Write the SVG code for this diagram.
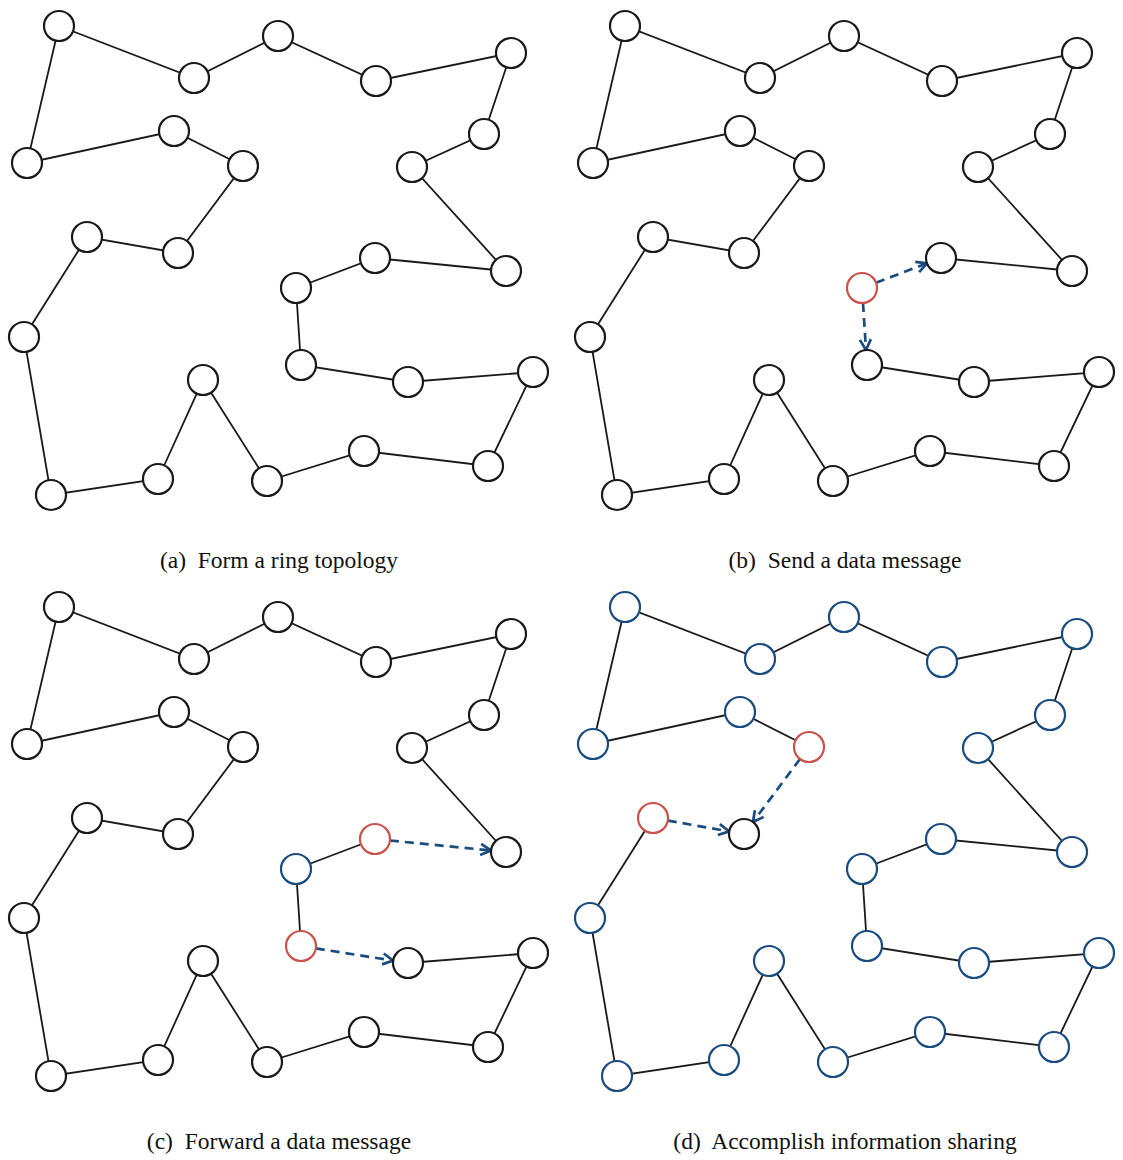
<svg xmlns="http://www.w3.org/2000/svg" width="1123" height="1160" viewBox="0 0 1123 1160">
<style>
.e{stroke:#1a1a1a;stroke-width:1.8;fill:none}
.d{stroke:#1b4c80;stroke-width:2.7;stroke-dasharray:9,6;fill:none;marker-end:url(#ah)}
.n{fill:#fff;stroke:#1a1a1a;stroke-width:2.2}
.r{fill:#fff;stroke:#c9524d;stroke-width:2.2}
.b{fill:#fff;stroke:#1b4c80;stroke-width:2.2}
.cap{font-family:"Liberation Serif",serif;font-size:23.5px;fill:#111;text-anchor:middle;white-space:pre}
</style>
<defs>
<marker id="ah" markerUnits="userSpaceOnUse" markerWidth="16" markerHeight="16" refX="12.5" refY="7" orient="auto" viewBox="0 0 16 14">
<path d="M2,1.5 L12.5,7 L2,12.5" fill="none" stroke="#1b4c80" stroke-width="2.7" stroke-linejoin="miter"/>
</marker>
</defs>

<!-- Panel (a) -->
<g id="panel-a">
<g id="a-edges">
<polyline class="e" points="59,26 194,78 278,36 376,81 511,53 484,134 412,167 506,271 375,258 296,288 301,365 408,382 533,372 488,466 364,451 267,481 203,380 158,479 51,495 24,337 87,237 178,253 243,166 174,131 27,163 59,26"/>
</g>
<g id="a-n1"><circle class="n" cx="59" cy="26" r="15"/></g>
<g id="a-n2"><circle class="n" cx="194" cy="78" r="15"/></g>
<g id="a-n3"><circle class="n" cx="278" cy="36" r="15"/></g>
<g id="a-n4"><circle class="n" cx="376" cy="81" r="15"/></g>
<g id="a-n5"><circle class="n" cx="511" cy="53" r="15"/></g>
<g id="a-n6"><circle class="n" cx="484" cy="134" r="15"/></g>
<g id="a-n7"><circle class="n" cx="412" cy="167" r="15"/></g>
<g id="a-n8"><circle class="n" cx="506" cy="271" r="15"/></g>
<g id="a-n9"><circle class="n" cx="375" cy="258" r="15"/></g>
<g id="a-n10"><circle class="n" cx="296" cy="288" r="15"/></g>
<g id="a-n11"><circle class="n" cx="301" cy="365" r="15"/></g>
<g id="a-n12"><circle class="n" cx="408" cy="382" r="15"/></g>
<g id="a-n13"><circle class="n" cx="533" cy="372" r="15"/></g>
<g id="a-n14"><circle class="n" cx="488" cy="466" r="15"/></g>
<g id="a-n15"><circle class="n" cx="364" cy="451" r="15"/></g>
<g id="a-n16"><circle class="n" cx="267" cy="481" r="15"/></g>
<g id="a-n17"><circle class="n" cx="203" cy="380" r="15"/></g>
<g id="a-n18"><circle class="n" cx="158" cy="479" r="15"/></g>
<g id="a-n19"><circle class="n" cx="51" cy="495" r="15"/></g>
<g id="a-n20"><circle class="n" cx="24" cy="337" r="15"/></g>
<g id="a-n21"><circle class="n" cx="87" cy="237" r="15"/></g>
<g id="a-n22"><circle class="n" cx="178" cy="253" r="15"/></g>
<g id="a-n23"><circle class="n" cx="243" cy="166" r="15"/></g>
<g id="a-n24"><circle class="n" cx="174" cy="131" r="15"/></g>
<g id="a-n25"><circle class="n" cx="27" cy="163" r="15"/></g>
<text class="cap" x="279" y="567.5" xml:space="preserve">(a)  Form a ring topology</text>
</g>

<!-- Panel (b) -->
<g id="panel-b" transform="translate(566,0)">
<g id="b-edges">
<polyline class="e" points="375,258 506,271 412,167 484,134 511,53 376,81 278,36 194,78 59,26 27,163 174,131 243,166 178,253 87,237 24,337 51,495 158,479 203,380 267,481 364,451 488,466 533,372 408,382 301,365"/>
<line class="d" x1="310" y1="282.7" x2="361" y2="263.3"/>
<line class="d" x1="297" y1="303" x2="300" y2="350"/>
</g>
<g id="b-n1"><circle class="n" cx="59" cy="26" r="15"/></g>
<g id="b-n2"><circle class="n" cx="194" cy="78" r="15"/></g>
<g id="b-n3"><circle class="n" cx="278" cy="36" r="15"/></g>
<g id="b-n4"><circle class="n" cx="376" cy="81" r="15"/></g>
<g id="b-n5"><circle class="n" cx="511" cy="53" r="15"/></g>
<g id="b-n6"><circle class="n" cx="484" cy="134" r="15"/></g>
<g id="b-n7"><circle class="n" cx="412" cy="167" r="15"/></g>
<g id="b-n8"><circle class="n" cx="506" cy="271" r="15"/></g>
<g id="b-n9"><circle class="n" cx="375" cy="258" r="15"/></g>
<g id="b-n10"><circle class="r" cx="296" cy="288" r="15"/></g>
<g id="b-n11"><circle class="n" cx="301" cy="365" r="15"/></g>
<g id="b-n12"><circle class="n" cx="408" cy="382" r="15"/></g>
<g id="b-n13"><circle class="n" cx="533" cy="372" r="15"/></g>
<g id="b-n14"><circle class="n" cx="488" cy="466" r="15"/></g>
<g id="b-n15"><circle class="n" cx="364" cy="451" r="15"/></g>
<g id="b-n16"><circle class="n" cx="267" cy="481" r="15"/></g>
<g id="b-n17"><circle class="n" cx="203" cy="380" r="15"/></g>
<g id="b-n18"><circle class="n" cx="158" cy="479" r="15"/></g>
<g id="b-n19"><circle class="n" cx="51" cy="495" r="15"/></g>
<g id="b-n20"><circle class="n" cx="24" cy="337" r="15"/></g>
<g id="b-n21"><circle class="n" cx="87" cy="237" r="15"/></g>
<g id="b-n22"><circle class="n" cx="178" cy="253" r="15"/></g>
<g id="b-n23"><circle class="n" cx="243" cy="166" r="15"/></g>
<g id="b-n24"><circle class="n" cx="174" cy="131" r="15"/></g>
<g id="b-n25"><circle class="n" cx="27" cy="163" r="15"/></g>
<text class="cap" x="279" y="567.5" xml:space="preserve">(b)  Send a data message</text>
</g>

<!-- Panel (c) -->
<g id="panel-c" transform="translate(0,581)">
<g id="c-edges">
<polyline class="e" points="375,258 296,288 301,365"/>
<polyline class="e" points="506,271 412,167 484,134 511,53 376,81 278,36 194,78 59,26 27,163 174,131 243,166 178,253 87,237 24,337 51,495 158,479 203,380 267,481 364,451 488,466 533,372 408,382"/>
<line class="d" x1="389.9" y1="259.5" x2="491.1" y2="269.5"/>
<line class="d" x1="315.8" y1="367.4" x2="393.2" y2="379.6"/>
</g>
<g id="c-n1"><circle class="n" cx="59" cy="26" r="15"/></g>
<g id="c-n2"><circle class="n" cx="194" cy="78" r="15"/></g>
<g id="c-n3"><circle class="n" cx="278" cy="36" r="15"/></g>
<g id="c-n4"><circle class="n" cx="376" cy="81" r="15"/></g>
<g id="c-n5"><circle class="n" cx="511" cy="53" r="15"/></g>
<g id="c-n6"><circle class="n" cx="484" cy="134" r="15"/></g>
<g id="c-n7"><circle class="n" cx="412" cy="167" r="15"/></g>
<g id="c-n8"><circle class="n" cx="506" cy="271" r="15"/></g>
<g id="c-n9"><circle class="r" cx="375" cy="258" r="15"/></g>
<g id="c-n10"><circle class="b" cx="296" cy="288" r="15"/></g>
<g id="c-n11"><circle class="r" cx="301" cy="365" r="15"/></g>
<g id="c-n12"><circle class="n" cx="408" cy="382" r="15"/></g>
<g id="c-n13"><circle class="n" cx="533" cy="372" r="15"/></g>
<g id="c-n14"><circle class="n" cx="488" cy="466" r="15"/></g>
<g id="c-n15"><circle class="n" cx="364" cy="451" r="15"/></g>
<g id="c-n16"><circle class="n" cx="267" cy="481" r="15"/></g>
<g id="c-n17"><circle class="n" cx="203" cy="380" r="15"/></g>
<g id="c-n18"><circle class="n" cx="158" cy="479" r="15"/></g>
<g id="c-n19"><circle class="n" cx="51" cy="495" r="15"/></g>
<g id="c-n20"><circle class="n" cx="24" cy="337" r="15"/></g>
<g id="c-n21"><circle class="n" cx="87" cy="237" r="15"/></g>
<g id="c-n22"><circle class="n" cx="178" cy="253" r="15"/></g>
<g id="c-n23"><circle class="n" cx="243" cy="166" r="15"/></g>
<g id="c-n24"><circle class="n" cx="174" cy="131" r="15"/></g>
<g id="c-n25"><circle class="n" cx="27" cy="163" r="15"/></g>
<text class="cap" x="279" y="568" xml:space="preserve">(c)  Forward a data message</text>
</g>

<!-- Panel (d) -->
<g id="panel-d" transform="translate(566,581)">
<g id="d-edges">
<polyline class="e" points="243,166 174,131 27,163 59,26 194,78 278,36 376,81 511,53 484,134 412,167 506,271 375,258 296,288 301,365 408,382 533,372 488,466 364,451 267,481 203,380 158,479 51,495 24,337 87,237"/>
<line class="d" x1="234" y1="178" x2="187" y2="241"/>
<line class="d" x1="101.8" y1="239.6" x2="163.2" y2="250.4"/>
</g>
<g id="d-n1"><circle class="b" cx="59" cy="26" r="15"/></g>
<g id="d-n2"><circle class="b" cx="194" cy="78" r="15"/></g>
<g id="d-n3"><circle class="b" cx="278" cy="36" r="15"/></g>
<g id="d-n4"><circle class="b" cx="376" cy="81" r="15"/></g>
<g id="d-n5"><circle class="b" cx="511" cy="53" r="15"/></g>
<g id="d-n6"><circle class="b" cx="484" cy="134" r="15"/></g>
<g id="d-n7"><circle class="b" cx="412" cy="167" r="15"/></g>
<g id="d-n8"><circle class="b" cx="506" cy="271" r="15"/></g>
<g id="d-n9"><circle class="b" cx="375" cy="258" r="15"/></g>
<g id="d-n10"><circle class="b" cx="296" cy="288" r="15"/></g>
<g id="d-n11"><circle class="b" cx="301" cy="365" r="15"/></g>
<g id="d-n12"><circle class="b" cx="408" cy="382" r="15"/></g>
<g id="d-n13"><circle class="b" cx="533" cy="372" r="15"/></g>
<g id="d-n14"><circle class="b" cx="488" cy="466" r="15"/></g>
<g id="d-n15"><circle class="b" cx="364" cy="451" r="15"/></g>
<g id="d-n16"><circle class="b" cx="267" cy="481" r="15"/></g>
<g id="d-n17"><circle class="b" cx="203" cy="380" r="15"/></g>
<g id="d-n18"><circle class="b" cx="158" cy="479" r="15"/></g>
<g id="d-n19"><circle class="b" cx="51" cy="495" r="15"/></g>
<g id="d-n20"><circle class="b" cx="24" cy="337" r="15"/></g>
<g id="d-n21"><circle class="r" cx="87" cy="237" r="15"/></g>
<g id="d-n22"><circle class="n" cx="178" cy="253" r="15"/></g>
<g id="d-n23"><circle class="r" cx="243" cy="166" r="15"/></g>
<g id="d-n24"><circle class="b" cx="174" cy="131" r="15"/></g>
<g id="d-n25"><circle class="b" cx="27" cy="163" r="15"/></g>
<text class="cap" x="279" y="568" xml:space="preserve">(d)  Accomplish information sharing</text>
</g>
</svg>
